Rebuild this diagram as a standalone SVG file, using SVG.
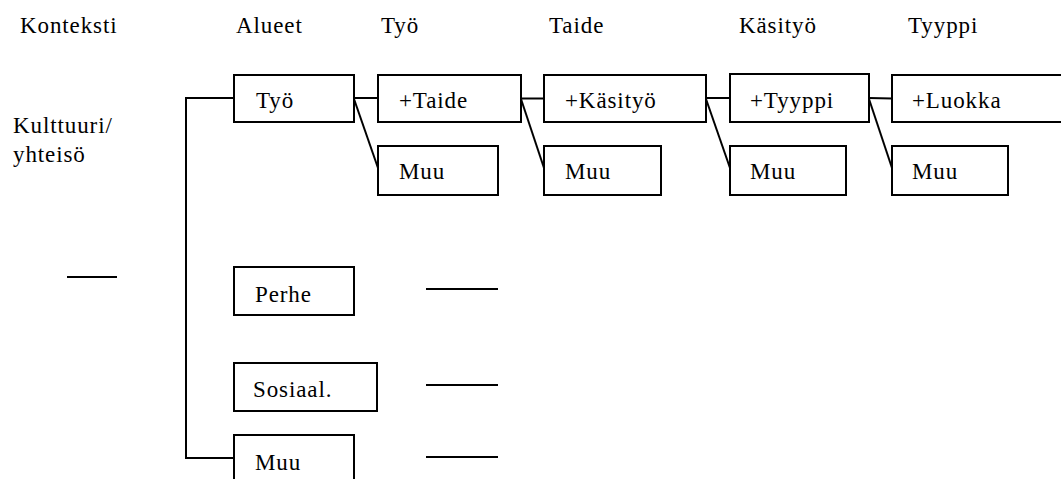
<svg xmlns="http://www.w3.org/2000/svg" width="1061" height="479" viewBox="0 0 1061 479">
<style>
text{font-family:'Liberation Serif','Times New Roman',serif;font-size:23px;letter-spacing:0.9px;fill:#000}
.box{fill:#fff;stroke:#000;stroke-width:2}
.ln{stroke:#000;stroke-width:2;fill:none}
</style>
<rect width="1061" height="479" fill="#fff"/>
<g id="headers">
<text x="20" y="33">Konteksti</text>
<text x="236" y="33">Alueet</text>
<text x="381" y="33">Työ</text>
<text x="549" y="33">Taide</text>
<text x="739" y="33">Käsityö</text>
<text x="908" y="33">Tyyppi</text>
</g>
<g id="kulttuuri">
<text x="13" y="133">Kulttuuri/</text>
<text x="13" y="162">yhteisö</text>
</g>
<g id="connectors">
<path class="ln" d="M234,458 H186 V98 H234"/>
<line class="ln" x1="67" y1="277" x2="117" y2="277"/>
<line class="ln" x1="354" y1="98" x2="378" y2="98"/>
<line class="ln" x1="354" y1="99" x2="378" y2="168"/>
<line class="ln" x1="521" y1="98.5" x2="544" y2="98.5"/>
<line class="ln" x1="521" y1="99" x2="544" y2="168"/>
<line class="ln" x1="706" y1="98" x2="730" y2="98"/>
<line class="ln" x1="706" y1="99" x2="730" y2="168"/>
<line class="ln" x1="869" y1="98" x2="892" y2="98.5"/>
<line class="ln" x1="869" y1="99" x2="892" y2="168"/>
<line class="ln" x1="426" y1="289" x2="498" y2="289"/>
<line class="ln" x1="426" y1="385" x2="498" y2="385"/>
<line class="ln" x1="426" y1="457" x2="498" y2="457"/>
</g>
<g id="n-tyo"><rect class="box" x="234" y="75" width="120" height="47"/><text x="256" y="108">Työ</text></g>
<g id="n-taide"><rect class="box" x="378" y="75" width="143" height="47"/><text x="399" y="108">+Taide</text></g>
<g id="n-kasityo"><rect class="box" x="544" y="75" width="162" height="47"/><text x="565" y="108">+Käsityö</text></g>
<g id="n-tyyppi"><rect class="box" x="730" y="74" width="139" height="48"/><text x="750" y="108">+Tyyppi</text></g>
<g id="n-luokka"><rect class="box" x="892" y="75" width="180" height="47"/><text x="912" y="108">+Luokka</text></g>
<g id="n-muu1"><rect class="box" x="378" y="146" width="120" height="49"/><text x="399" y="179">Muu</text></g>
<g id="n-muu2"><rect class="box" x="544" y="146" width="117" height="49"/><text x="565" y="179">Muu</text></g>
<g id="n-muu3"><rect class="box" x="730" y="146" width="116" height="49"/><text x="750" y="179">Muu</text></g>
<g id="n-muu4"><rect class="box" x="892" y="146" width="116" height="49"/><text x="912" y="179">Muu</text></g>
<g id="n-perhe"><rect class="box" x="234" y="267" width="120" height="48"/><text x="255" y="302">Perhe</text></g>
<g id="n-sosiaal"><rect class="box" x="234" y="363" width="143" height="48"/><text x="253" y="397">Sosiaal.</text></g>
<g id="n-muu5"><rect class="box" x="234" y="435" width="120" height="50"/><text x="255" y="470">Muu</text></g>
</svg>
